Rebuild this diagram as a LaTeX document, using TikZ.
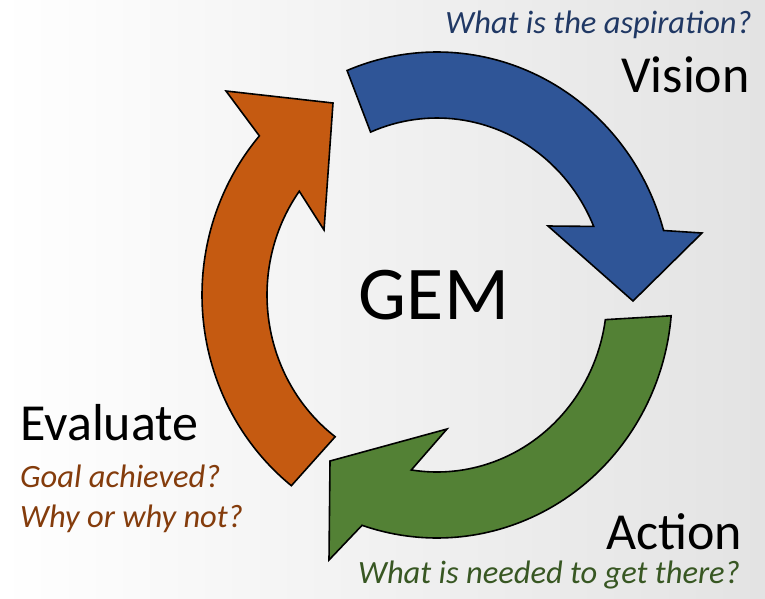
\documentclass[tikz,border=0pt]{standalone}
\usepackage{fontspec}
\setmainfont{Carlito}
\usetikzlibrary{calc}
\definecolor{visionblue}{HTML}{2F5597}
\definecolor{actiongreen}{HTML}{538135}
\definecolor{evalorange}{HTML}{C55A11}
\definecolor{visiontext}{HTML}{203864}
\definecolor{actiontext}{HTML}{385723}
\definecolor{evaltext}{HTML}{843C0C}
\begin{document}
\begin{tikzpicture}[x=1pt,y=-1pt,
    cyclearrow/.style={draw=black, line width=1.6pt, line join=miter},
    stagename/.style={font=\fontsize{52}{60}\selectfont, inner sep=0pt},
    question/.style={font=\fontsize{32.5}{38}\selectfont\itshape, inner sep=0pt}]
    % Background
    \shade[left color=white, right color=gray!22] (0,0) rectangle (765,598);
    \useasboundingbox (0,0) rectangle (765,598);
    \coordinate (C) at (437,295);

    % Vision arrow
    \draw[cyclearrow, fill=visionblue]
      ($(C)+(-112.5:235 and 243)$) arc[start angle=-112.5, end angle=-15.4, x radius=235, y radius=243]
      -- (702,233) -- (633,301) -- (548,226)
      -- ($(C)+(-22.8:170 and 177)$) arc[start angle=-22.8, end angle=-113, x radius=170, y radius=177]
      -- cycle;

    % Action arrow
    \draw[cyclearrow, fill=actiongreen]
      ($(C)+(4.9:235 and 243)$) arc[start angle=4.9, end angle=108.6, x radius=235, y radius=243]
      -- (329,560) -- (330,461) -- (447,429)
      -- ($(C)+(98.7:170 and 177)$) arc[start angle=98.7, end angle=8, x radius=170, y radius=177]
      -- cycle;

    % Evaluate arrow
    \draw[cyclearrow, fill=evalorange]
      ($(C)+(128.3:235 and 243)$) arc[start angle=128.3, end angle=220.9, x radius=235, y radius=243]
      -- (226,91) -- (333,103) -- (324,230)
      -- ($(C)+(215.9:170 and 177)$) arc[start angle=215.9, end angle=126.8, x radius=170, y radius=177]
      -- cycle;

    % Labels
    \node[font=\fontsize{76}{90}\selectfont, anchor=base, inner sep=0pt] (gem) at (434,319) {GEM};
    \node[question, text=visiontext, anchor=base east] (visionq) at (752,33) {What is the aspiration?};
    \node[stagename, anchor=base east] (vision) at (750,92) {Vision};
    \node[stagename, anchor=base east] (action) at (742,549) {Action};
    \node[question, text=actiontext, anchor=base east] (actionq) at (740,583) {What is needed to get there?};
    \node[stagename, anchor=base west] (evaluate) at (20,440) {Evaluate};
    \node[question, text=evaltext, anchor=base west] (evalq1) at (20,487) {Goal achieved?};
    \node[question, text=evaltext, anchor=base west] (evalq2) at (20,527) {Why or why not?};
\end{tikzpicture}
\end{document}
